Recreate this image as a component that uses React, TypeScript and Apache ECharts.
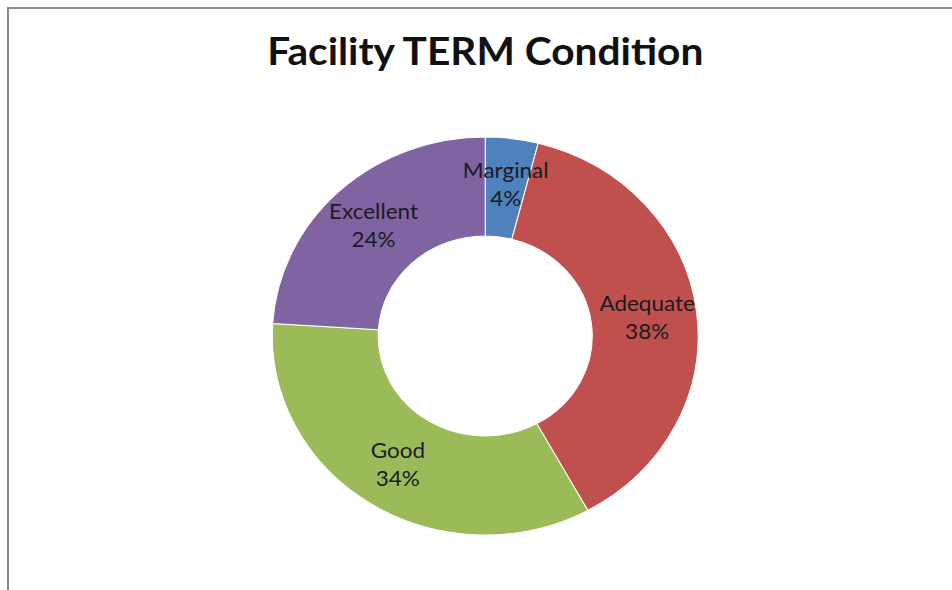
import React, { useEffect, useRef } from "react";
import * as echarts from "echarts";

const categories = ["Marginal", "Adequate", "Good", "Excellent"];
const values = [4, 38, 34, 24];
const colors = ["#4F81BD", "#C0504D", "#9BBB59", "#8064A2"];
const titleText = "Facility TERM Condition";

// the reference picture is stretched horizontally by about 7%
const STRETCH = 1.07;
const CHART_W = 907;

export default function App() {
  const ref = useRef<HTMLDivElement>(null);
  useEffect(() => {
    if (!ref.current) return;
    const chart = echarts.init(ref.current, undefined, { renderer: "svg" });
    chart.setOption({
      animation: false,
      backgroundColor: "#ffffff",
      title: {
        text: titleText,
        left: "center",
        top: 26,
        textStyle: {
          fontFamily: "Lato",
          fontWeight: "bold",
          fontSize: 38,
          color: "#111111",
        },
      },
      series: [
        {
          type: "pie",
          center: ["50%", 336],
          radius: [100, 199],
          startAngle: 90,
          clockwise: true,
          avoidLabelOverlap: false,
          itemStyle: { borderColor: "#ffffff", borderWidth: 1 },
          label: {
            show: true,
            position: "inside",
            formatter: "{b}\n{d}%",
            fontFamily: "Lato",
            fontSize: 21,
            lineHeight: 28,
            color: "#1a1a24",
          },
          labelLine: { show: false },
          data: categories.map((c, i) => ({
            name: c,
            value: values[i],
            itemStyle: { color: colors[i] },
          })),
        },
      ],
    });
    return () => chart.dispose();
  }, []);
  return (
    <div
      style={{
        position: "fixed",
        left: 0,
        top: 0,
        width: 952,
        height: 590,
        background: "#fff",
        overflow: "hidden",
      }}
    >
      <div
        ref={ref}
        style={{
          position: "absolute",
          left: 0,
          top: 0,
          width: CHART_W,
          height: 590,
          transform: `scaleX(${STRETCH})`,
          transformOrigin: "0 0",
        }}
      />
      <div
        style={{
          position: "absolute",
          left: 7,
          top: 7,
          width: 960,
          height: 600,
          borderLeft: "2px solid #8a8a8a",
          borderTop: "2px solid #8a8a8a",
          pointerEvents: "none",
        }}
      />
    </div>
  );
}
